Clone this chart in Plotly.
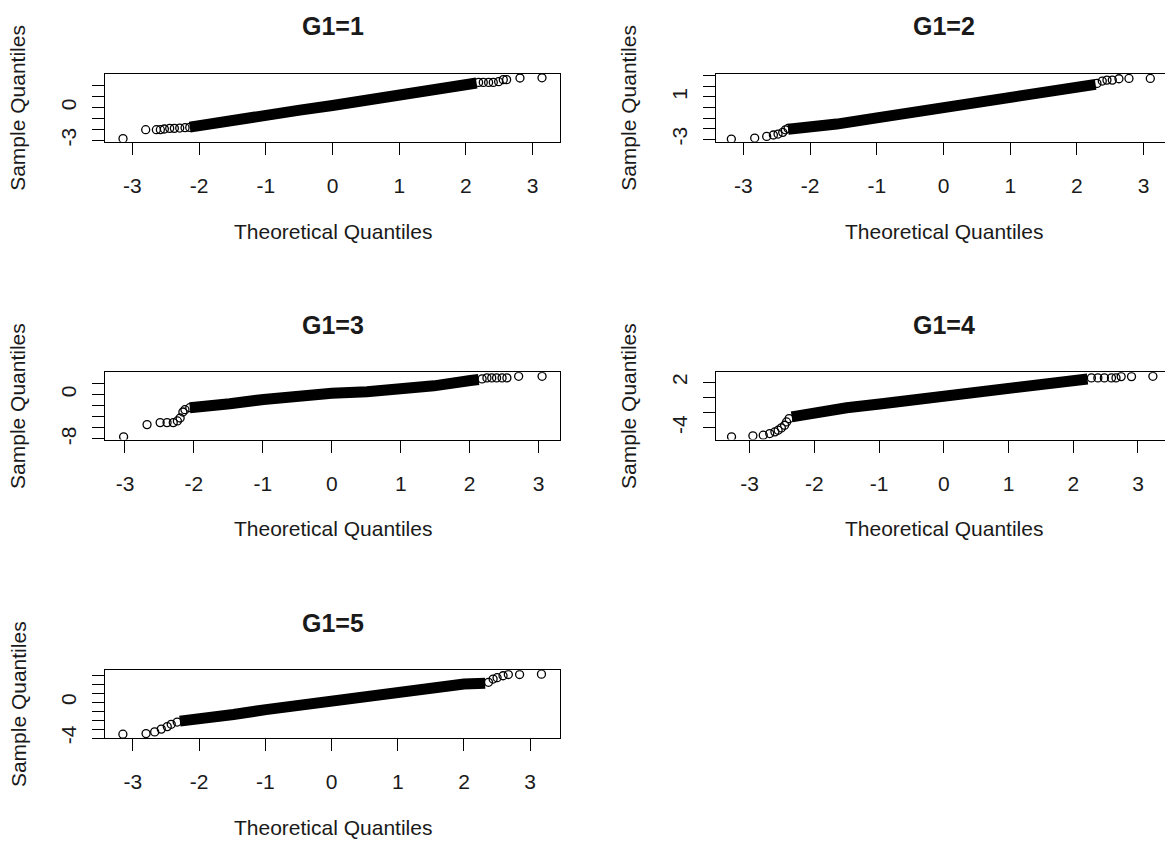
import plotly.graph_objects as go

W, H = 1165, 846

# ---------------- data (theoretical vs sample quantiles) ----------------
titles = ["G1=1", "G1=2", "G1=3", "G1=4", "G1=5"]

# G1=1
p1_low_x = [-3.14, -2.80, -2.64, -2.58, -2.52, -2.44, -2.37, -2.29, -2.21, -2.14]
p1_low_y = [-2.85, -2.03, -2.03, -2.03, -1.97, -1.91, -1.91, -1.88, -1.85, -1.82]
p1_band_x = [-2.14, -1.99, -1.49, -0.99, -0.49, 0.00, 0.51, 1.01, 1.51, 2.01, 2.16]
p1_band_y = [-1.80, -1.64, -1.21, -0.67, -0.24, 0.18, 0.64, 1.03, 1.45, 2.06, 2.24]
p1_high_x = [2.19, 2.26, 2.34, 2.41, 2.49, 2.56, 2.61, 2.81, 3.14]
p1_high_y = [2.30, 2.30, 2.30, 2.30, 2.36, 2.55, 2.55, 2.70, 2.72]

# G1=2
p2_low_x = [-3.18, -2.83, -2.65, -2.55, -2.48, -2.41, -2.37, -2.33]
p2_low_y = [-2.97, -2.88, -2.72, -2.59, -2.50, -2.34, -2.10, -1.97]
p2_band_x = [-2.33, -2.10, -1.60, -1.00, -0.50, 0.00, 0.50, 1.00, 1.50, 2.00, 2.28]
p2_band_y = [-2.05, -1.97, -1.56, -0.97, -0.50, 0.00, 0.37, 0.87, 1.56, 1.97, 2.19]
p2_high_x = [2.30, 2.38, 2.45, 2.53, 2.63, 2.78, 3.10]
p2_high_y = [2.28, 2.50, 2.59, 2.59, 2.72, 2.75, 2.75]

# G1=3
p3_low_x = [-3.02, -2.68, -2.49, -2.39, -2.30, -2.24, -2.20, -2.16, -2.13, -2.06]
p3_low_y = [-7.62, -5.42, -5.06, -5.06, -5.06, -4.76, -4.23, -3.15, -2.74, -2.38]
p3_band_x = [-2.06, -1.91, -1.48, -0.99, -0.51, 0.00, 0.51, 1.02, 1.48, 2.01, 2.13]
p3_band_y = [-2.38, -2.26, -1.67, -0.89, -0.24, 0.20, 0.50, 0.88, 1.55, 2.50, 2.68]
p3_high_x = [2.18, 2.25, 2.32, 2.39, 2.47, 2.54, 2.71, 3.05]
p3_high_y = [2.80, 2.98, 2.98, 2.98, 2.98, 2.98, 3.27, 3.27]

# G1=4
p4_low_x = [-3.28, -2.95, -2.79, -2.69, -2.61, -2.56, -2.51, -2.46, -2.43, -2.39]
p4_low_y = [-5.17, -5.04, -4.96, -4.74, -4.52, -4.30, -4.00, -3.65, -3.22, -2.78]
p4_band_x = [-2.35, -2.28, -1.99, -1.50, -0.99, -0.52, 0.00, 0.49, 0.98, 1.50, 1.98, 2.22]
p4_band_y = [-2.55, -2.43, -1.90, -1.35, -0.85, -0.39, 0.04, 0.48, 0.93, 1.55, 2.13, 2.43]
p4_high_x = [2.28, 2.38, 2.48, 2.59, 2.66, 2.74, 2.90, 3.23]
p4_high_y = [2.57, 2.57, 2.57, 2.57, 2.57, 2.74, 2.74, 2.78]

# G1=5
p5_low_x = [-3.15, -2.80, -2.67, -2.57, -2.48, -2.42, -2.33]
p5_low_y = [-3.57, -3.50, -3.31, -3.00, -2.72, -2.46, -2.21]
p5_band_x = [-2.29, -1.99, -1.48, -0.99, -0.49, 0.00, 0.50, 1.00, 1.50, 2.00, 2.32]
p5_band_y = [-2.10, -1.91, -1.36, -0.81, -0.29, 0.11, 0.63, 1.11, 1.59, 2.07, 2.15]
p5_high_x = [2.37, 2.44, 2.50, 2.59, 2.67, 2.84, 3.17]
p5_high_y = [2.25, 2.62, 2.77, 2.99, 3.13, 3.13, 3.17]

# tick values / labels
x_tickvals = [-3, -2, -1, 0, 1, 2, 3]
x_ticktext = ["-3", "-2", "-1", "0", "1", "2", "3"]
y_tickvals = [
    [-3, -2, -1, 0, 1, 2],
    [-3, -2, -1, 0, 1, 2, 3],
    [-8, -6, -4, -2, 0, 2],
    [-4, -2, 0, 2],
    [-4, -3, -2, -1, 0, 1, 2, 3],
]
y_ticktext = [
    ["-3", "", "", "0", "", ""],
    ["-3", "", "", "", "1", "", ""],
    ["-8", "", "", "", "0", ""],
    ["-4", "", "", "2"],
    ["-4", "", "", "", "0", "", "", ""],
]
x_title = "Theoretical Quantiles"
y_title = "Sample Quantiles"

lows = [(p1_low_x, p1_low_y), (p2_low_x, p2_low_y), (p3_low_x, p3_low_y),
        (p4_low_x, p4_low_y), (p5_low_x, p5_low_y)]
bands = [(p1_band_x, p1_band_y), (p2_band_x, p2_band_y), (p3_band_x, p3_band_y),
         (p4_band_x, p4_band_y), (p5_band_x, p5_band_y)]
highs = [(p1_high_x, p1_high_y), (p2_high_x, p2_high_y), (p3_high_x, p3_high_y),
         (p4_high_x, p4_high_y), (p5_high_x, p5_high_y)]

# ---------------- layout geometry (pixels) ----------------
col_box = [(105, 560), (716, 1171)]          # plot box left/right per column
row_box = [(74.5, 142.7), (375, 442.7), (675, 743.3)]  # plot box top/bottom per row
x_ranges = [(-3.41, 3.41), (-3.41, 3.41), (-3.29, 3.31), (-3.52, 3.51), (-3.42, 3.45)]
y_ranges = [(-3.13, 3.07), (-3.22, 3.17), (-8.11, 3.98), (-5.53, 3.30), (-4.0, 3.61)]

FONT = "Liberation Sans, Arial, sans-serif"
TXT = "#1a1a1a"

fig = go.Figure()
layout = dict(
    width=W, height=H,
    margin=dict(l=0, r=0, t=0, b=0),
    paper_bgcolor="white", plot_bgcolor="white",
    showlegend=False,
    font=dict(family=FONT, color=TXT, size=21),
)
annotations = []

for i in range(5):
    r, c = divmod(i, 2)
    L, R = col_box[c]
    T, B = row_box[r]
    xa = "xaxis" if i == 0 else f"xaxis{i+1}"
    ya = "yaxis" if i == 0 else f"yaxis{i+1}"
    xr = "x" if i == 0 else f"x{i+1}"
    yr = "y" if i == 0 else f"y{i+1}"

    # visible part of the column (right column is cut by the page edge)
    x0, x1 = x_ranges[i]
    vis_R = min(R, W)
    x1_vis = x0 + (x1 - x0) * (vis_R - L) / (R - L)

    layout[xa] = dict(
        domain=[L / W, vis_R / W], range=[x0, x1_vis], anchor=yr,
        showline=True, mirror=True, linecolor="black", linewidth=1,
        ticks="outside", ticklen=12, tickwidth=1, tickcolor="black",
        tickvals=x_tickvals, ticktext=x_ticktext,
        tickfont=dict(family=FONT, size=21, color=TXT),
        ticklabelstandoff=13,
        showgrid=False, zeroline=False, fixedrange=True,
    )
    layout[ya] = dict(
        domain=[1 - B / H, 1 - T / H], range=list(y_ranges[i]), anchor=xr,
        showline=True, mirror=(R <= W), linecolor="black", linewidth=1,
        ticks="outside", ticklen=12, tickwidth=1, tickcolor="black",
        tickvals=y_tickvals[i], ticktext=y_ticktext[i], tickangle=-90,
        tickfont=dict(family=FONT, size=21, color=TXT),
        ticklabelstandoff=8,
        showgrid=False, zeroline=False, fixedrange=True,
    )

    bx, by = bands[i]
    fig.add_trace(go.Scatter(x=bx, y=by, xaxis=xr, yaxis=yr, mode="lines",
                             line=dict(color="black", width=11), hoverinfo="skip"))
    for px, py in (lows[i], highs[i]):
        fig.add_trace(go.Scatter(x=px, y=py, xaxis=xr, yaxis=yr, mode="markers",
                                 marker=dict(symbol="circle-open", size=8, color="black",
                                             line=dict(width=1.3, color="black")),
                                 hoverinfo="skip", cliponaxis=True))

    cx = (L + R) / 2
    cy = (T + B) / 2
    # panel title
    annotations.append(dict(text=f"<b>{titles[i]}</b>", xref="paper", yref="paper",
                            x=cx / W, y=1 - (T - 48) / H, showarrow=False,
                            xanchor="center", yanchor="middle",
                            font=dict(family=FONT, size=25, color=TXT)))
    # x axis title
    annotations.append(dict(text=x_title, xref="paper", yref="paper",
                            x=cx / W, y=1 - (B + 90) / H, showarrow=False,
                            xanchor="center", yanchor="middle",
                            font=dict(family=FONT, size=21, color=TXT)))
    # y axis title
    annotations.append(dict(text=y_title, xref="paper", yref="paper",
                            x=(L - 87) / W, y=1 - cy / H, showarrow=False,
                            textangle=-90, xanchor="center", yanchor="middle",
                            font=dict(family=FONT, size=21, color=TXT)))

layout["annotations"] = annotations
fig.update_layout(**layout)
fig.write_html("out.html", config={"displayModeBar": False},
               post_script="document.body.style.margin='0';document.body.style.overflow='hidden';")
